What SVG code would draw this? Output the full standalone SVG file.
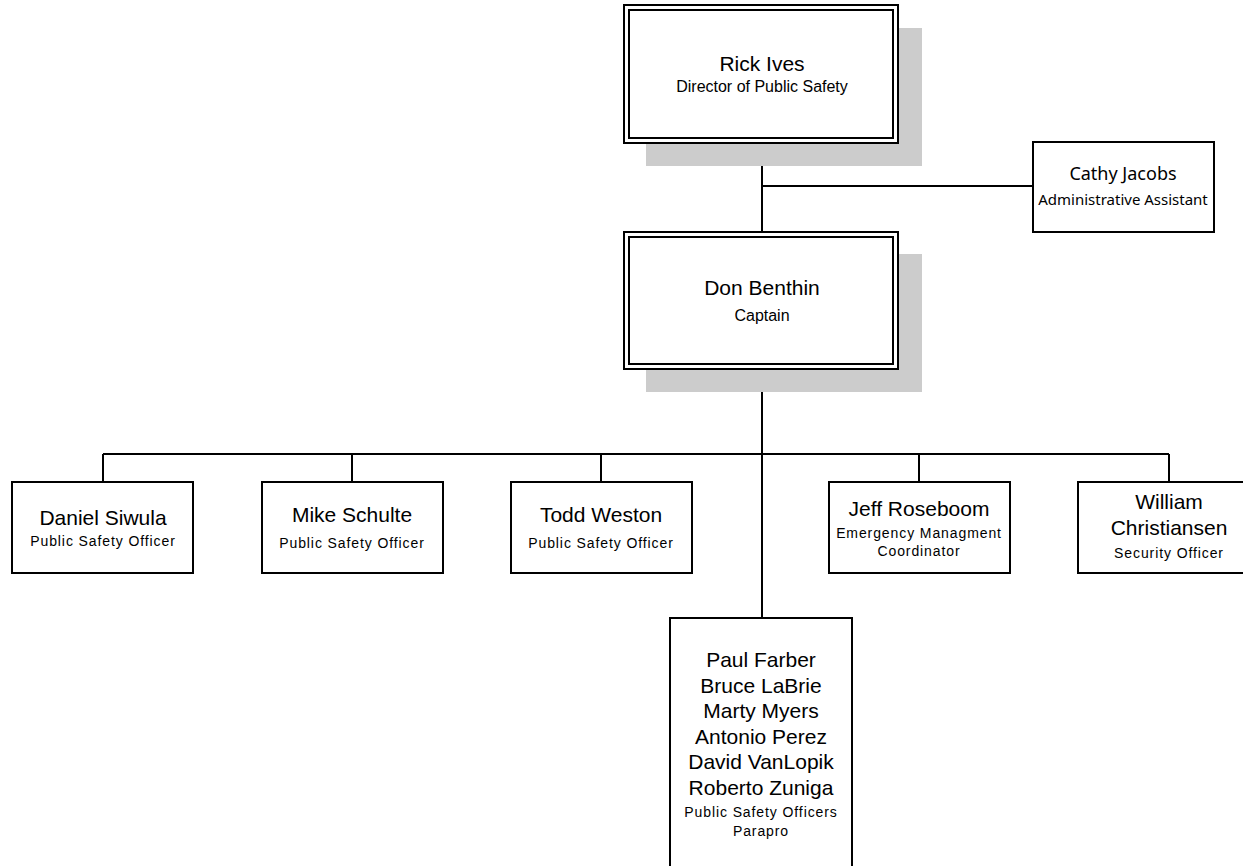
<svg xmlns="http://www.w3.org/2000/svg" width="1243" height="866" viewBox="0 0 1243 866">
<style>
.bg{fill:#fff}
.box{fill:#fff;stroke:#000;stroke-width:2}
.shadow{fill:#cccccc}
.line{stroke:#000;stroke-width:2;fill:none}
.name{font-family:"Liberation Sans",Arial,sans-serif;font-size:21px;fill:#000;text-anchor:middle}
.sub{font-family:"Liberation Sans",Arial,sans-serif;font-size:14px;fill:#000;text-anchor:middle;letter-spacing:0.9px}
.title{font-family:"Liberation Sans",Arial,sans-serif;font-size:16px;fill:#000;text-anchor:middle}
.nm2{font-family:"Noto Sans","Open Sans",sans-serif;font-size:18px;fill:#000;text-anchor:middle}
.sb2{font-family:"Noto Sans","Open Sans",sans-serif;font-size:15px;fill:#000;text-anchor:middle}
</style>
<rect class="bg" x="0" y="0" width="1243" height="866"/>
<g id="connectors">
<line class="line" x1="762" y1="143" x2="762" y2="232"/>
<line class="line" x1="762" y1="186" x2="1033" y2="186"/>
<line class="line" x1="762" y1="369" x2="762" y2="618"/>
<line class="line" x1="103" y1="454" x2="1169" y2="454"/>
<line class="line" x1="103" y1="454" x2="103" y2="482"/>
<line class="line" x1="352" y1="454" x2="352" y2="482"/>
<line class="line" x1="601" y1="454" x2="601" y2="482"/>
<line class="line" x1="919" y1="454" x2="919" y2="482"/>
<line class="line" x1="1169" y1="454" x2="1169" y2="482"/>
</g>
<g id="rick">
<rect class="shadow" x="646" y="28" width="276" height="138"/>
<rect class="box" x="624" y="5" width="274" height="138"/>
<rect class="box" x="629" y="10" width="264" height="128"/>
<text class="name" x="762" y="71">Rick Ives</text>
<text class="title" x="762" y="92">Director of Public Safety</text>
</g>
<g id="cathy">
<rect class="box" x="1033" y="142" width="181" height="90"/>
<text class="nm2" x="1123" y="180">Cathy Jacobs</text>
<text class="sb2" x="1123" y="205">Administrative Assistant</text>
</g>
<g id="don">
<rect class="shadow" x="646" y="254" width="276" height="138"/>
<rect class="box" x="624" y="232" width="274" height="137"/>
<rect class="box" x="629" y="237" width="264" height="127"/>
<text class="name" x="762" y="295">Don Benthin</text>
<text class="title" x="762" y="321">Captain</text>
</g>
<g id="daniel">
<rect class="box" x="12" y="482" width="181" height="91"/>
<text class="name" x="103" y="525">Daniel Siwula</text>
<text class="sub" x="103" y="546">Public Safety Officer</text>
</g>
<g id="mike">
<rect class="box" x="262" y="482" width="181" height="91"/>
<text class="name" x="352" y="522">Mike Schulte</text>
<text class="sub" x="352" y="548">Public Safety Officer</text>
</g>
<g id="todd">
<rect class="box" x="511" y="482" width="181" height="91"/>
<text class="name" x="601" y="522">Todd Weston</text>
<text class="sub" x="601" y="548">Public Safety Officer</text>
</g>
<g id="jeff">
<rect class="box" x="829" y="482" width="181" height="91"/>
<text class="name" x="919" y="516">Jeff Roseboom</text>
<text class="sub" x="919" y="538">Emergency Managment</text>
<text class="sub" x="919" y="556">Coordinator</text>
</g>
<g id="william">
<rect class="box" x="1078" y="482" width="181" height="91"/>
<text class="name" x="1169" y="509">William</text>
<text class="name" x="1169" y="535">Christiansen</text>
<text class="sub" x="1169" y="558">Security Officer</text>
</g>
<g id="paul">
<rect class="box" x="670" y="618" width="182" height="260"/>
<text class="name" x="761" y="667">Paul Farber</text>
<text class="name" x="761" y="693">Bruce LaBrie</text>
<text class="name" x="761" y="718">Marty Myers</text>
<text class="name" x="761" y="744">Antonio Perez</text>
<text class="name" x="761" y="769">David VanLopik</text>
<text class="name" x="761" y="795">Roberto Zuniga</text>
<text class="sub" x="761" y="817">Public Safety Officers</text>
<text class="sub" x="761" y="836">Parapro</text>
</g>
</svg>
